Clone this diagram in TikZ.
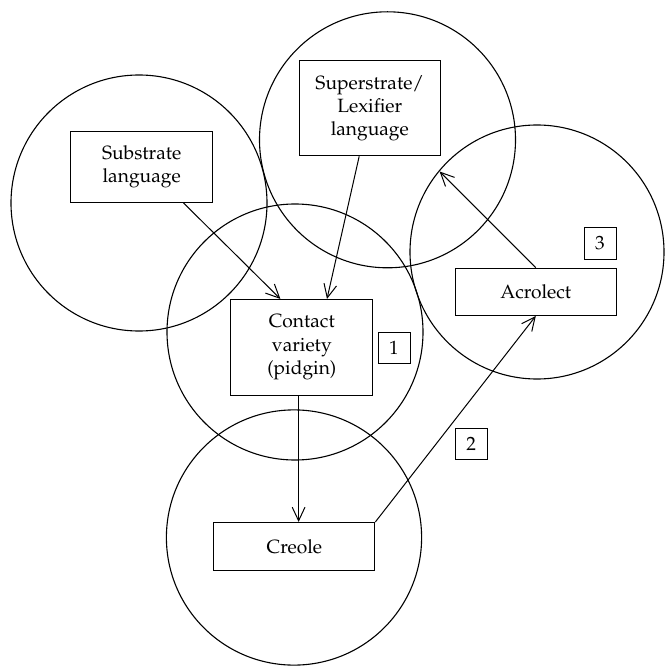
\documentclass[tikz,border=0pt]{standalone}
\usepackage[T1]{fontenc}
\usepackage{mathpazo}
\usetikzlibrary{arrows.meta,calc}
\begin{document}
\begin{tikzpicture}[x=0.5pt,y=-0.5pt,
  ring/.style={draw,line width=0.55pt},
  box/.style={draw,line width=0.45pt,align=center,inner sep=0pt,
    font=\fontsize{9.6}{11.7}\selectfont},
  numbox/.style={draw,line width=0.45pt,inner sep=0pt,minimum width=16pt,
    minimum height=15.6pt,font=\fontsize{9.6}{11.7}\selectfont},
  link/.style={line width=0.5pt,-{Straight Barb[length=6.8pt,width=6.4pt,line width=0.5pt]}}]
\useasboundingbox (0,0) rectangle (664,668);
% circles
\draw[ring] (139,203) circle[radius=64pt];
\draw[ring] (387.5,139.8) circle[radius=64pt];
\draw[ring] (537,252) circle[radius=63.5pt];
\draw[ring] (295,332) circle[radius=64pt];
\draw[ring] (294,537.5) circle[radius=63.8pt];
% boxes
\node[box,fill=white,minimum width=71pt,minimum height=35.5pt] (sub) at (141.7,166.9) {Substrate\\language};
\node[box,fill=white,minimum width=70.8pt,minimum height=47.6pt] (sup) at (369.8,108.2) {Superstrate/\\Lexifier\\language};
\node[box,fill=white,minimum width=71pt,minimum height=47.9pt] (con) at (301.8,347.3) {Contact\\variety\\(pidgin)};
\node[box,fill=white,minimum width=80.5pt,minimum height=23.7pt] (acr) at (535.8,291.8) {Acrolect};
\node[box,fill=white,minimum width=80.5pt,minimum height=24pt] (cre) at (294.4,546.4) {Creole};
\node[numbox,fill=white] (n1) at (394,348) {1};
\node[numbox,fill=white] (n3) at (600,243.5) {3};
\node[numbox,fill=white] (n2) at (471.2,443.7) {2};
% connectors
\coordinate (up) at (439.6,171.5);
\draw[link] ([xshift=20.85pt]sub.south) -- ([xshift=-10.7pt]con.north);
\draw[link] ([xshift=-5.3pt]sup.south) -- ([xshift=12.6pt]con.north);
\draw[link] ([xshift=-1.6pt]con.south) -- ([xshift=-1.6pt]con.south |- cre.north);
\draw[link] (cre.north east) -- (acr.south);
\draw[link] (acr.north) -- (up);
\end{tikzpicture}
\end{document}
